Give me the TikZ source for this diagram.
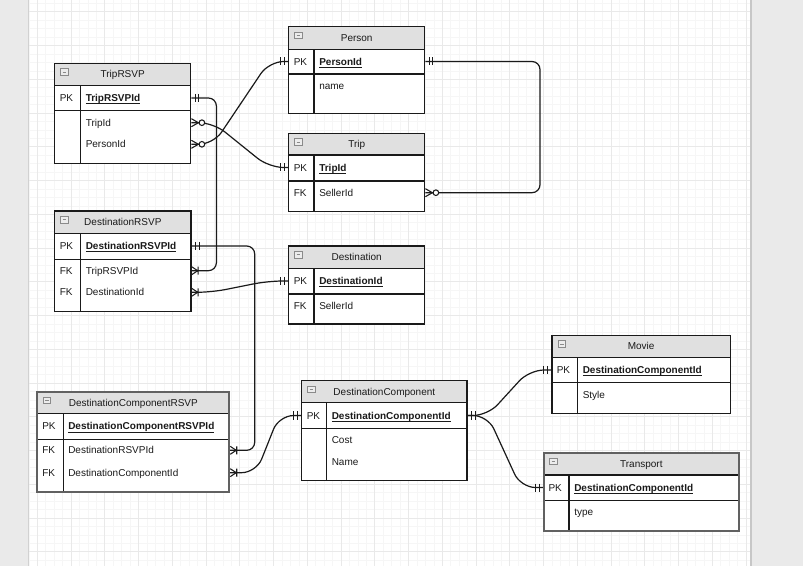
\documentclass[tikz,border=0pt]{standalone}
\usepackage{fontspec}
\setmainfont{Liberation Sans}
\usetikzlibrary{calc,fit}
\definecolor{hdr}{HTML}{E0E0E0}
\definecolor{side}{HTML}{EAEAEA}
\definecolor{gminor}{HTML}{F6F6F6}
\definecolor{gmajor}{HTML}{E9E9E9}
\definecolor{ink}{HTML}{1A1A1A}
\definecolor{iconc}{HTML}{8A8A8A}

\newcommand{\ertbl}[9]{%
  \fill[hdr] (#2,#3) rectangle ++(#4,#5);
  \fill[white] (#2,#3+#5) rectangle ++(#4,#7-#5);
  \draw[rowline] (#2,#3+#5) -- ++(#4,0) (#2,#3+#5+#6) -- ++(#4,0);
  \draw[colline] (#2+#8,#3+#5) -- (#2+#8,#3+#7);
  \draw[iconbox] (#2+6,#3+5.5) rectangle ++(7.5,6.5);
  \draw[iconminus] (#2+8,#3+8.75) -- ++(3.5,0);
  \path (#2,#3) coordinate (#1-nw) (#2+#4,#3+#7) coordinate (#1-se);
  \node[tblborder, fit=(#1-nw)(#1-se)] (#1) {};
  \node[tbltitle] (#1-title) at ({#2+#4/2},{#3+#5/2}) {#9};
}
\newcommand{\pkname}[1]{\underline{\smash{#1}}}

\begin{document}
\begin{tikzpicture}[x=0.75pt,y=-0.75pt,
  fld/.style={anchor=west, inner sep=0pt, text height=5.4pt, text depth=0pt,
    font=\fontsize{7.5}{9}\selectfont, text=ink},
  keyfld/.style={fld, font=\fontsize{7.5}{9}\selectfont\bfseries},
  tbltitle/.style={inner sep=0pt, text height=5.4pt, text depth=0pt,
    font=\fontsize{7.5}{9}\selectfont, text=ink},
  tblborder/.style={draw=ink, line width=1.05pt, inner sep=0pt},
  rowline/.style={draw=ink, line width=0.9pt},
  colline/.style={draw=ink, line width=0.8pt},
  iconbox/.style={draw=iconc, fill=hdr!60, line width=0.5pt},
  iconminus/.style={draw=iconc, line width=0.6pt},
  edge/.style={draw=ink, line width=0.9pt, rounded corners=6pt},
  sedge/.style={draw=ink, line width=0.9pt, rounded corners=11pt},
  mk/.style={draw=ink, line width=0.8pt},
  mone/.pic={\draw[mk] (3.7,-4) -- (3.7,4) (7.4,-4) -- (7.4,4);},
  zmany/.pic={\draw[mk] (0,-4) -- (7,0) -- (0,4); \draw[mk,fill=white] (10.5,0) circle[radius=2.8];},
  omany/.pic={\draw[mk] (0,-4) -- (6,0) -- (0,4) (6.5,-4) -- (6.5,4);}
]
\useasboundingbox (0,0) rectangle (803,566);
\fill[white] (0,0) rectangle (803,566);
% grid
\begin{scope}
  \clip (28.7,0) rectangle (751,566);
  \foreach \i in {0,...,92} \draw[gminor, line width=0.45pt] ({3.5+\i*8.4375},0) -- ++(0,566);
  \foreach \i in {0,...,72} \draw[gminor, line width=0.45pt] (0,{-22+\i*8.4375}) -- ++(803,0);
  \foreach \i in {0,...,23} \draw[gmajor, line width=0.6pt] ({3.5+\i*33.75},0) -- ++(0,566);
  \foreach \i in {0,...,18} \draw[gmajor, line width=0.6pt] (0,{-22+\i*33.75}) -- ++(803,0);
\end{scope}
\fill[side] (0,0) rectangle (28.7,566);
\fill[side] (751,0) rectangle (803,566);
\draw[draw=black!18, line width=0.6pt] (28.7,0) -- (28.7,566);
\draw[draw=black!22, line width=0.8pt] (751,0) -- (751,566);

% tables
\ertbl{trsvp}{54.7}{63.3}{136}{22}{25.4}{100}{26}{TripRSVP}
\node[fld] (trsvpPKl) at (59.5,98) {PK};
\node[keyfld] (trsvpPK) at (85.5,98) {\pkname{TripRSVPId}};
\node[fld] (trsvpTI) at (85.5,122.7) {TripId};
\node[fld] (trsvpPI) at (85.5,144.3) {PersonId};

\ertbl{person}{288.7}{26.7}{136}{22.6}{24.7}{86.6}{25.3}{Person}
\node[fld] (personPKl) at (293.5,61.5) {PK};
\node[keyfld] (personPK) at (319,61.5) {\pkname{PersonId}};
\node[fld] (personNM) at (319,85.7) {name};

\ertbl{trip}{288.7}{133.3}{136}{21.7}{26}{78}{25.3}{Trip}
\node[fld] (tripPKl) at (293.5,167.5) {PK};
\node[keyfld] (tripPK) at (319,167.5) {\pkname{TripId}};
\node[fld] (tripSIl) at (293.5,192.7) {FK};
\node[fld] (tripSI) at (319,192.7) {SellerId};

\ertbl{drsvp}{54.7}{211}{136.3}{22.3}{26}{100.7}{26}{DestinationRSVP}
\node[fld] (drsvpPKl) at (59.5,246) {PK};
\node[keyfld] (drsvpPK) at (85.5,246) {\pkname{DestinationRSVPId}};
\node[fld] (drsvpTRl) at (59.5,270.7) {FK};
\node[fld] (drsvpTR) at (85.5,270.7) {TripRSVPId};
\node[fld] (drsvpDIl) at (59.5,292.3) {FK};
\node[fld] (drsvpDI) at (85.5,292.3) {DestinationId};

\ertbl{dest}{288.7}{246}{136}{22.3}{25.7}{78}{25.3}{Destination}
\node[fld] (destPKl) at (293.5,281) {PK};
\node[keyfld] (destPK) at (319,281) {\pkname{DestinationId}};
\node[fld] (destSIl) at (293.5,306) {FK};
\node[fld] (destSI) at (319,306) {SellerId};

\begin{scope}[tblborder/.style={draw=black!62, line width=1.4pt, inner sep=0pt}]
\ertbl{dcrsvp}{37.3}{391.7}{192}{21.6}{26}{100}{26}{DestinationComponentRSVP}
\end{scope}
\node[fld] (dcrsvpPKl) at (42,426.3) {PK};
\node[keyfld] (dcrsvpPK) at (68,426.3) {\pkname{DestinationComponentRSVPId}};
\node[fld] (dcrsvpDRl) at (42,450.3) {FK};
\node[fld] (dcrsvpDR) at (68,450.3) {DestinationRSVPId};
\node[fld] (dcrsvpDCl) at (42,472.7) {FK};
\node[fld] (dcrsvpDC) at (68,472.7) {DestinationComponentId};

\ertbl{dc}{301.7}{380.7}{165.3}{21.6}{26.4}{99.6}{25}{DestinationComponent}
\node[fld] (dcPKl) at (306.5,415.5) {PK};
\node[keyfld] (dcPK) at (331.5,415.5) {\pkname{DestinationComponentId}};
\node[fld] (dcCO) at (331.5,439.7) {Cost};
\node[fld] (dcNM) at (331.5,461.7) {Name};

\ertbl{movie}{552}{335.3}{178.3}{22}{25.4}{78}{25.7}{Movie}
\node[fld] (moviePKl) at (556.5,370) {PK};
\node[keyfld] (moviePK) at (582.5,370) {\pkname{DestinationComponentId}};
\node[fld] (movieST) at (582.5,394.7) {Style};

\begin{scope}[tblborder/.style={draw=black!62, line width=1.4pt, inner sep=0pt}]
\ertbl{trans}{543.7}{452.7}{195.3}{22.3}{25.3}{78}{25.3}{Transport}
\end{scope}
\node[fld] (transPKl) at (548.3,487.5) {PK};
\node[keyfld] (transPK) at (574,487.5) {\pkname{DestinationComponentId}};
\node[fld] (transTY) at (574,512) {type};

% connectors
\draw[edge] (trsvp.east |- trsvpPK) -- ++(25,0) |- (drsvp.east |- drsvpTR);
\draw[sedge] (trsvp.east |- trsvpTI) -- ++(22,0) -- ($(trip.west |- tripPK)+(-19,0)$) -- (trip.west |- tripPK);
\draw[sedge] (trsvp.east |- trsvpPI) -- ++(22,0) -- ($(person.west |- personPK)+(-19,0)$) -- (person.west |- personPK);
\draw[edge] (person.east |- personPK) -- ++(114.6,0) |- (trip.east |- tripSI);
\draw[edge] (drsvp.east |- drsvpPK) -- ++(63,0) |- (dcrsvp.east |- dcrsvpDR);
\draw[sedge] (drsvp.east |- drsvpDI) -- ++(20,0) -- ($(dest.west |- destPK)+(-20,0)$) -- (dest.west |- destPK);
\draw[sedge] (dcrsvp.east |- dcrsvpDC) -- ++(26,0) -- ($(dc.west |- dcPK)+(-22,0)$) -- (dc.west |- dcPK);
\draw[sedge] (dc.east |- dcPK) -- ++(20,0) -- ($(movie.west |- moviePK)+(-22,0)$) -- (movie.west |- moviePK);
\draw[sedge] (dc.east |- dcPK) -- ++(20,0) -- ($(trans.west |- transPK)+(-22,0)$) -- (trans.west |- transPK);

% markers
\pic at (trsvp.east |- trsvpPK) {mone};
\pic at (drsvp.east |- drsvpTR) {omany};
\pic at (trsvp.east |- trsvpTI) {zmany};
\pic[xscale=-1] at (trip.west |- tripPK) {mone};
\pic at (trsvp.east |- trsvpPI) {zmany};
\pic[xscale=-1] at (person.west |- personPK) {mone};
\pic at (person.east |- personPK) {mone};
\pic at (trip.east |- tripSI) {zmany};
\pic at (drsvp.east |- drsvpPK) {mone};
\pic at (dcrsvp.east |- dcrsvpDR) {omany};
\pic at (drsvp.east |- drsvpDI) {omany};
\pic[xscale=-1] at (dest.west |- destPK) {mone};
\pic at (dcrsvp.east |- dcrsvpDC) {omany};
\pic[xscale=-1] at (dc.west |- dcPK) {mone};
\pic at (dc.east |- dcPK) {mone};
\pic[xscale=-1] at (movie.west |- moviePK) {mone};
\pic[xscale=-1] at (trans.west |- transPK) {mone};
\end{tikzpicture}
\end{document}
